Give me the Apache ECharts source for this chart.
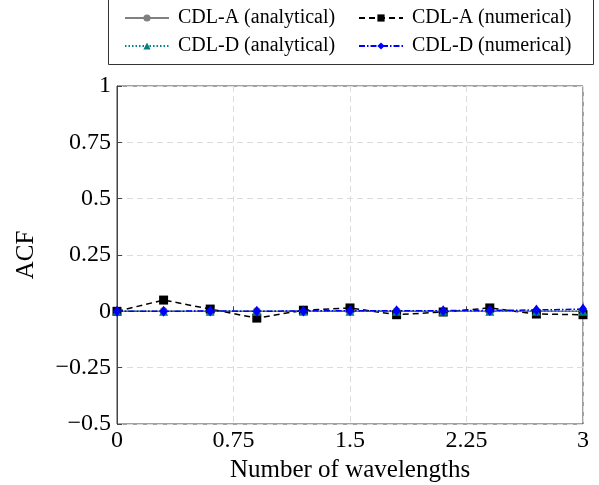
<!DOCTYPE html>
<html><head><meta charset="utf-8">
<script src="https://cdn.jsdelivr.net/npm/echarts@6/dist/echarts.min.js"></script>
<style>html,body{margin:0;padding:0;background:#fff}#c{width:599px;height:485px}</style>
</head><body><div id="c"></div>
<script>
const xValues = [0, 0.3, 0.6, 0.9, 1.2, 1.5, 1.8, 2.1, 2.4, 2.7, 3.0];
const cdlAAnalytical = [0, 0, 0, 0, 0, 0, 0, 0, 0, 0, 0];
const cdlANumerical = [0, 0.05, 0.01, -0.03, 0.005, 0.015, -0.015, -0.003, 0.015, -0.012, -0.015];
const cdlDAnalytical = [0, 0, 0, 0, 0, 0, 0, 0, 0, 0, 0];
const cdlDNumerical = [0, 0, 0.002, 0, 0.002, 0.003, 0.003, 0.003, 0.004, 0.006, 0.01];
const seriesNames = ['CDL-A (analytical)', 'CDL-A (numerical)', 'CDL-D (analytical)', 'CDL-D (numerical)'];
const xTicks = [0, 0.75, 1.5, 2.25, 3];
const yTicks = [-0.5, -0.25, 0, 0.25, 0.5, 0.75, 1];

const font = '"Liberation Serif", "DejaVu Serif", serif';
const fmt = v => String(v).replace('-', '\u2212');
const pts = arr => xValues.map((x, i) => [x, arr[i]]);

const chart = echarts.init(document.getElementById('c'), null, {renderer: 'canvas'});
const legendBase = {itemWidth: 44, itemHeight: 9, padding: 0, selectedMode: false,
  textStyle: {fontFamily: font, fontSize: 20, color: '#000', padding: [0, 0, 0, 4]}};
chart.setOption({
  animation: false,
  textStyle: {fontFamily: font},
  graphic: [{type: 'rect', shape: {x: 108.5, y: -1, width: 485, height: 65.5}, style: {fill: 'none', stroke: '#333', lineWidth: 1}, z: 0}],
  legend: [
    Object.assign({}, legendBase, {data: [seriesNames[0]], left: 124, top: 8}),
    Object.assign({}, legendBase, {data: [seriesNames[1]], left: 358, top: 8}),
    Object.assign({}, legendBase, {data: [seriesNames[2]], left: 124, top: 36}),
    Object.assign({}, legendBase, {data: [seriesNames[3]], left: 358, top: 36})
  ],
  grid: {left: 117, right: 16, top: 86, bottom: 61, containLabel: false, outerBoundsMode: 'none',
    show: true, borderColor: '#444', borderWidth: 1, backgroundColor: 'transparent'},
  xAxis: {
    type: 'value', min: 0, max: 3, interval: 0.75,
    name: 'Number of wavelengths', nameLocation: 'middle', nameGap: 31,
    nameTextStyle: {fontFamily: font, fontSize: 25, color: '#000'},
    axisLine: {lineStyle: {color: '#444'}},
    axisTick: {inside: true, length: 5, lineStyle: {color: '#444'}},
    axisLabel: {fontFamily: font, fontSize: 24, color: '#000', margin: 5, formatter: v => fmt(v),
      customValues: xTicks},
    splitLine: {show: true, lineStyle: {color: '#dcdcdc', type: [6, 4]}}
  },
  yAxis: {
    type: 'value', min: -0.5, max: 1, interval: 0.25,
    name: 'ACF', nameLocation: 'middle', nameGap: 78, nameRotate: 90,
    nameTextStyle: {fontFamily: font, fontSize: 25, color: '#000'},
    axisLine: {show: true, lineStyle: {color: '#444'}},
    axisTick: {show: true, inside: true, length: 5, lineStyle: {color: '#444'}},
    axisLabel: {fontFamily: font, fontSize: 24, color: '#000', margin: 6, formatter: v => fmt(v)},
    splitLine: {show: true, lineStyle: {color: '#dcdcdc', type: [6, 4]}}
  },
  series: [
    {name: seriesNames[0], type: 'line', data: pts(cdlAAnalytical), symbol: 'circle', symbolSize: 8,
      itemStyle: {color: '#808080'}, lineStyle: {color: '#808080', width: 1.5, type: 'solid'}, z: 2},
    {name: seriesNames[1], type: 'line', data: pts(cdlANumerical), symbol: 'rect', symbolSize: 9,
      itemStyle: {color: '#000'}, lineStyle: {color: '#000', width: 1.5, type: [6, 4]}, z: 3},
    {name: seriesNames[2], type: 'line', data: pts(cdlDAnalytical), symbol: 'triangle', symbolSize: 9,
      itemStyle: {color: '#008080'}, lineStyle: {color: '#008080', width: 1.5, type: [1.5, 2]}, z: 4},
    {name: seriesNames[3], type: 'line', data: pts(cdlDNumerical), symbol: 'diamond', symbolSize: [8, 11],
      itemStyle: {color: '#0000ff'}, lineStyle: {color: '#0000ff', width: 1.5, type: [6, 2, 1.5, 2]}, z: 5}
  ]
});
</script></body></html>
